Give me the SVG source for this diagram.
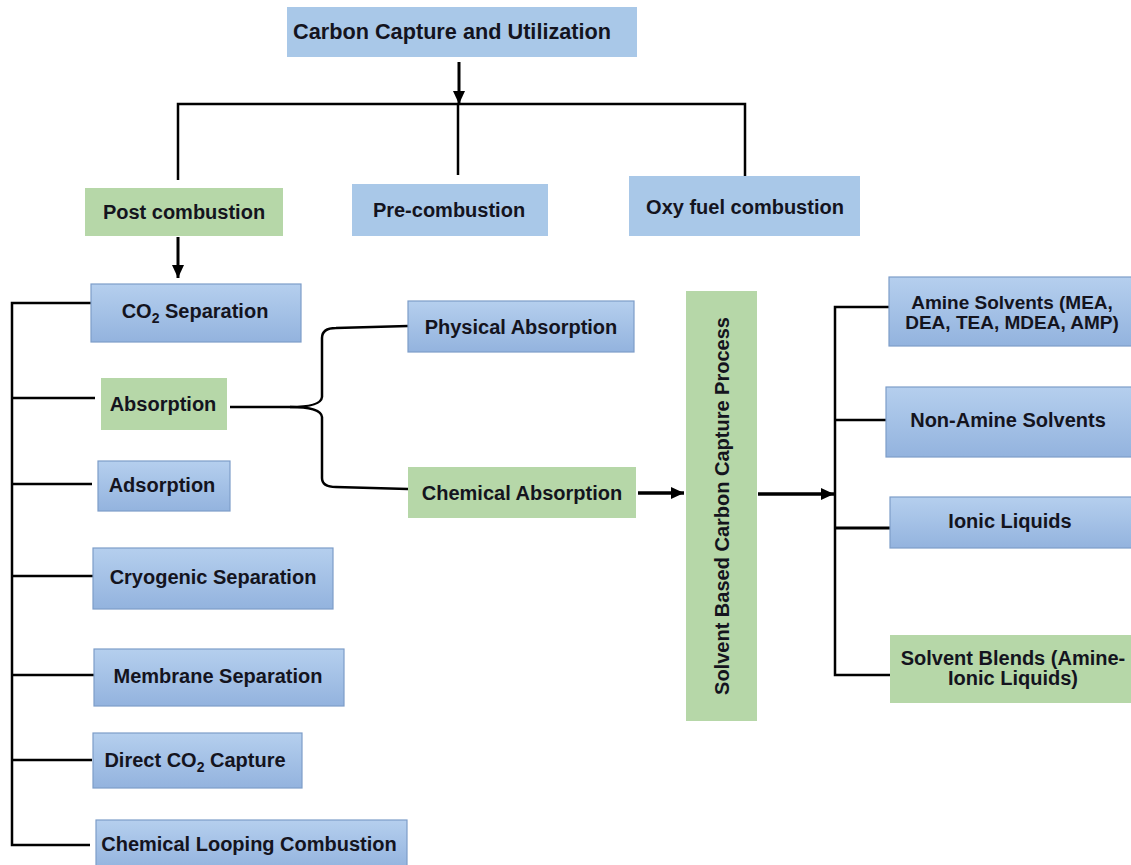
<svg xmlns="http://www.w3.org/2000/svg" width="1131" height="865" viewBox="0 0 1131 865">
<defs>
<linearGradient id="bg" x1="0" y1="0" x2="0" y2="1">
<stop offset="0" stop-color="#b5cfee"/>
<stop offset="1" stop-color="#93b3de"/>
</linearGradient>
<marker id="ah" markerUnits="userSpaceOnUse" markerWidth="16" markerHeight="16" refX="13" refY="8" orient="auto">
<path d="M0,2 L13,8 L0,14 Z" fill="#000"/>
</marker>
<style>
.t{font-family:"Liberation Sans",Arial,sans-serif;font-weight:bold;font-size:20px;fill:#14141e;text-anchor:middle}
.flat{fill:#a9c8e8}
.grad{fill:url(#bg);stroke:#7d9dc9;stroke-width:1.2}
.green{fill:#b6d7a8}
.ln{fill:none;stroke:#000;stroke-width:2.5}
.ar{fill:none;stroke:#000;stroke-width:3;marker-end:url(#ah)}
</style>
</defs>
<rect width="1131" height="865" fill="#fff"/>

<g id="connectors">
<line class="ar" x1="459" y1="62" x2="459" y2="104"/>
<polyline class="ln" points="178,180 178,104 745,104 745,180"/>
<line class="ln" x1="458" y1="104" x2="458" y2="175"/>
<line class="ar" x1="178" y1="237" x2="178" y2="278"/>
<polyline class="ln" points="91,303 12,303 12,845 90,845"/>
<line class="ln" x1="12" y1="398" x2="95" y2="398"/>
<line class="ln" x1="12" y1="484" x2="92" y2="484"/>
<line class="ln" x1="12" y1="576" x2="93" y2="576"/>
<line class="ln" x1="12" y1="675" x2="95" y2="675"/>
<line class="ln" x1="12" y1="760" x2="92" y2="760"/>
<path class="ln" d="M230,407 L290,407 Q321,407 322,397 L322,338 Q322,328 336,328 L408,326"/>
<path class="ln" d="M290,407 Q321,407 322,417 L322,478 Q322,487 336,487 L408,489"/>
<line class="ar" x1="638" y1="493" x2="684" y2="493" style="stroke-width:3.5"/>
<line class="ar" x1="758" y1="494" x2="834" y2="494" style="stroke-width:3.5"/>
<polyline class="ln" points="889,307 835,307 835,675 890,675"/>
<line class="ln" x1="835" y1="420" x2="886" y2="420"/>
<line class="ln" x1="835" y1="528" x2="890" y2="528" style="stroke-width:3"/>
</g>

<g id="n-ccu"><rect class="flat" x="287" y="7" width="350" height="50"/><text class="t" x="293" y="39" style="text-anchor:start;font-size:21.7px">Carbon Capture and Utilization</text></g>
<g id="n-post"><rect class="green" x="85" y="188" width="198" height="48"/><text class="t" x="184" y="219">Post combustion</text></g>
<g id="n-pre"><rect class="flat" x="352" y="184" width="196" height="52"/><text class="t" x="449" y="217">Pre-combustion</text></g>
<g id="n-oxy"><rect class="flat" x="629" y="176" width="231" height="60"/><text class="t" x="745" y="214">Oxy fuel combustion</text></g>

<g id="n-co2sep"><rect class="grad" x="91" y="284" width="210" height="58"/><text class="t" x="195" y="318">CO<tspan font-size="14" dy="5">2</tspan><tspan dy="-5"> Separation</tspan></text></g>
<g id="n-absorption"><rect class="green" x="101" y="378" width="126" height="52"/><text class="t" x="163" y="411">Absorption</text></g>
<g id="n-adsorption"><rect class="grad" x="98" y="461" width="132" height="50"/><text class="t" x="162" y="492">Adsorption</text></g>
<g id="n-cryo"><rect class="grad" x="93" y="548" width="240" height="61"/><text class="t" x="213" y="584">Cryogenic Separation</text></g>
<g id="n-membrane"><rect class="grad" x="94" y="649" width="250" height="57"/><text class="t" x="218" y="683">Membrane Separation</text></g>
<g id="n-direct"><rect class="grad" x="93" y="733" width="209" height="55"/><text class="t" x="195" y="767">Direct CO<tspan font-size="14" dy="5">2</tspan><tspan dy="-5"> Capture</tspan></text></g>
<g id="n-looping"><rect class="grad" x="96" y="820" width="311" height="50"/><text class="t" x="249" y="851">Chemical Looping Combustion</text></g>

<g id="n-physical"><rect class="grad" x="408" y="301" width="226" height="51"/><text class="t" x="521" y="334">Physical Absorption</text></g>
<g id="n-chemical"><rect class="green" x="408" y="467" width="228" height="51"/><text class="t" x="522" y="500">Chemical Absorption</text></g>

<g id="n-solvent"><rect class="green" x="686" y="291" width="71" height="430"/><text class="t" transform="translate(729,506) rotate(-90)" x="0" y="0">Solvent Based Carbon Capture Process</text></g>

<g id="n-amine"><rect class="grad" x="889" y="277" width="245" height="69"/><text class="t" x="1012" y="309" style="font-size:19px">Amine  Solvents (MEA,</text><text class="t" x="1012" y="329" style="font-size:19px">DEA,  TEA, MDEA, AMP)</text></g>
<g id="n-nonamine"><rect class="grad" x="886" y="387" width="248" height="70"/><text class="t" x="1008" y="427">Non-Amine  Solvents</text></g>
<g id="n-ionic"><rect class="grad" x="890" y="497" width="244" height="51"/><text class="t" x="1010" y="528">Ionic Liquids</text></g>
<g id="n-blends"><rect class="green" x="890" y="635" width="244" height="68"/><text class="t" x="1013" y="665">Solvent Blends (Amine-</text><text class="t" x="1013" y="685">Ionic Liquids)</text></g>
</svg>
